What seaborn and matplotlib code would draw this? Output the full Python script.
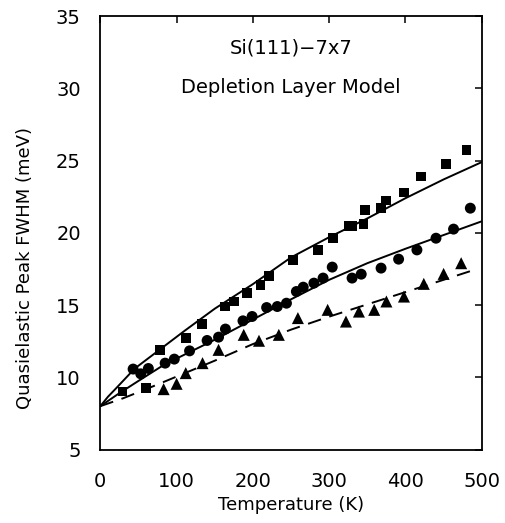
import matplotlib
matplotlib.use("Agg")
import matplotlib.pyplot as plt
import seaborn as sns

# ---- data ----
sq_T = [29, 60, 78, 112, 133, 163, 175, 192, 210, 221, 253, 285, 305, 326, 330,
        345, 347, 368, 374, 398, 420, 453, 480]
sq_W = [9.02, 9.25, 11.9, 12.71, 13.7, 14.9, 15.25, 15.83, 16.4, 17.02, 18.13,
        18.82, 19.63, 20.48, 20.48, 20.6, 21.59, 21.71, 22.24, 22.79, 23.9, 24.78, 25.74]

ci_T = [43, 53, 63, 85, 97, 117, 140, 155, 164, 187, 199, 218, 232, 244, 257,
        266, 280, 292, 304, 330, 342, 368, 391, 415, 440, 463, 485]
ci_W = [10.57, 10.24, 10.61, 10.98, 11.26, 11.83, 12.55, 12.78, 13.34, 13.91,
        14.21, 14.83, 14.9, 15.13, 15.94, 16.24, 16.52, 16.87, 17.63, 16.87,
        17.14, 17.56, 18.18, 18.82, 19.63, 20.26, 21.71]

tr_T = [83, 100, 112, 134, 155, 188, 208, 234, 259, 298, 322, 339, 359, 375,
        398, 424, 450, 473]
tr_W = [9.18, 9.55, 10.29, 10.98, 11.9, 12.94, 12.53, 12.94, 14.1, 14.67, 13.86,
        14.55, 14.67, 15.25, 15.59, 16.47, 17.16, 17.9]

top_T = [0, 10, 20, 45, 80, 110, 150, 200, 250, 300, 350, 400, 450, 500]
top_W = [8.0, 8.65, 9.2, 10.6, 12.0, 13.2, 14.75, 16.45, 18.3, 19.7, 21.0, 22.4, 23.7, 24.9]

mid_T = [0, 25, 50, 80, 100, 150, 200, 250, 300, 350, 400, 450, 500]
mid_W = [8.0, 8.9, 9.75, 10.75, 11.3, 12.6, 14.0, 15.4, 16.75, 17.9, 18.9, 19.85, 20.8]

low_T = [0, 30, 75, 150, 200, 250, 300, 350, 400, 450, 485]
low_W = [8.0, 8.55, 9.5, 11.15, 12.3, 13.3, 14.2, 15.05, 15.9, 16.75, 17.35]

x_ticks = [0, 100, 200, 300, 400, 500]
y_ticks = [5, 10, 15, 20, 25, 30, 35]

title1 = "Si(111)\u22127x7"
title2 = "Depletion Layer Model"
xlabel = "Temperature (K)"
ylabel = "Quasielastic Peak FWHM (meV)"

# ---- plotting ----
sns.set_style("white")
plt.rcParams["font.family"] = ["DejaVu Sans"]
plt.rcParams["text.color"] = "black"
plt.rcParams["axes.labelcolor"] = "black"

fig = plt.figure(figsize=(5.05, 5.23), dpi=100)
ax = fig.add_axes([0.1986, 0.1405, 0.7554, 0.8285])

sns.lineplot(x=top_T, y=top_W, ax=ax, color="black", lw=1.4, sort=False, estimator=None)
sns.lineplot(x=mid_T, y=mid_W, ax=ax, color="black", lw=1.4, sort=False, estimator=None)
sns.lineplot(x=low_T, y=low_W, ax=ax, color="black", lw=1.4, sort=False,
             estimator=None, linestyle=(0, (7, 4.5)))

sns.scatterplot(x=sq_T, y=sq_W, ax=ax, marker="s", s=50, color="black", edgecolor="none", zorder=3)
sns.scatterplot(x=ci_T, y=ci_W, ax=ax, marker="o", s=62, color="black", edgecolor="none", zorder=3)
sns.scatterplot(x=tr_T, y=tr_W, ax=ax, marker="^", s=75, color="black", edgecolor="none", zorder=3)

ax.set_xlim(0, 500)
ax.set_ylim(5, 35)
ax.set_xticks(x_ticks)
ax.set_yticks(y_ticks)
ax.tick_params(direction="in", length=5, width=1.1, top=True, right=True,
               labelsize=14, colors="black")
ax.tick_params(axis="y", pad=14)
ax.tick_params(axis="x", pad=16)
for sp in ax.spines.values():
    sp.set_visible(True)
    sp.set_linewidth(1.3)
    sp.set_color("black")

ax.set_xlabel(xlabel, fontsize=13, va="center", color="black")
ax.set_ylabel(ylabel, fontsize=13, va="center", color="black")
ax.xaxis.set_label_coords(0.5, -0.128)
ax.yaxis.set_label_coords(-0.197, 0.42)

ax.text(0.5, 0.927, title1, transform=ax.transAxes, ha="center", va="center",
        fontsize=14, color="black")
ax.text(0.5, 0.835, title2, transform=ax.transAxes, ha="center", va="center",
        fontsize=14, color="black")

fig.savefig("out.png", dpi=100)
